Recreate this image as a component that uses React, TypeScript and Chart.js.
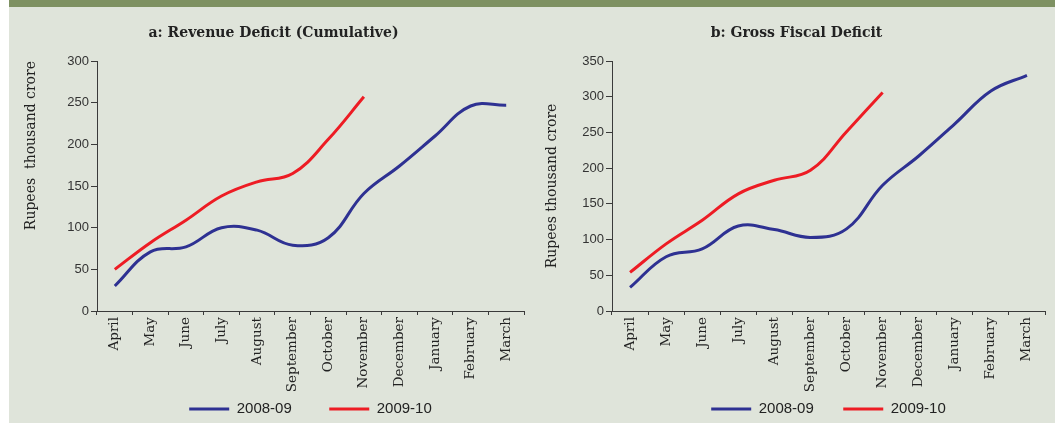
import React, { useEffect, useRef } from "react";
import { Chart, registerables } from "chart.js";

Chart.register(...registerables);

const months = ["April", "May", "June", "July", "August", "September", "October", "November", "December", "January", "February", "March"];
const seriesLabels = ["2008-09", "2009-10"];

const revenue0809 = [30, 71, 77, 100, 97, 79, 88, 141, 174, 210, 246, 247];
const revenue0910 = [50, 82, 109, 138, 155, 165, 206, 257];

const fiscal0809 = [33, 76, 87, 119, 114, 103, 115, 176, 217, 262, 308, 330];
const fiscal0910 = [54, 94, 127, 164, 183, 197, 251, 306];

const BLUE = "#2e3192";
const RED = "#ed1c24";
const AXIS = "#3a3a3a";
const TEXT = "#222222";

type PanelProps = {
  title: string;
  yTitle: string;
  yTitleAlign: "start" | "center" | "end";
  yTitlePad: number;
  blue: number[];
  red: number[];
  yMax: number;
  left: number;
  width: number;
  yAxisWidth: number;
  xAxisHeight: number;
  padLeft: number;
  padRight: number;
  padBottom: number;
  legendPad: number;
};

const CANVAS_H = 460;

function Panel(p: PanelProps) {
  const ref = useRef<HTMLCanvasElement | null>(null);
  useEffect(() => {
    if (!ref.current) return;
    const chart = new Chart(ref.current, {
      type: "line",
      data: {
        labels: months,
        datasets: [
          {
            label: seriesLabels[0],
            data: p.blue,
            borderColor: BLUE,
            backgroundColor: BLUE,
            borderWidth: 3,
            pointRadius: 0,
            tension: 0.4,
            fill: false,
          },
          {
            label: seriesLabels[1],
            data: p.red,
            borderColor: RED,
            backgroundColor: RED,
            borderWidth: 3,
            pointRadius: 0,
            tension: 0.4,
            fill: false,
          },
        ],
      },
      options: {
        responsive: false,
        animation: false,
        devicePixelRatio: 1,
        layout: { padding: { left: p.padLeft, right: p.padRight, top: 0, bottom: p.padBottom } },
        plugins: {
          tooltip: { enabled: false },
          title: {
            display: true,
            text: p.title,
            color: TEXT,
            font: { family: "'DejaVu Serif', serif", size: 14, weight: "bold" },
            padding: { top: 24.6, bottom: 19.6 },
          },
          legend: {
            display: true,
            position: "bottom",
            fullSize: false,
            labels: {
              usePointStyle: true,
              pointStyle: "line",
              pointStyleWidth: 40,
              color: TEXT,
              font: { family: "'Liberation Sans', Arial, sans-serif", size: 15 },
              padding: p.legendPad,
            },
          },
        },
        scales: {
          x: {
            type: "category",
            offset: true,
            grid: { offset: true, drawOnChartArea: false, drawTicks: true, tickLength: 4, color: AXIS },
            border: { color: AXIS, width: 1 },
            ticks: {
              autoSkip: false,
              minRotation: 90,
              maxRotation: 90,
              padding: 2,
              color: TEXT,
              font: { family: "'DejaVu Serif', serif", size: 13.5 },
            },
            afterFit: (scale: any) => {
              scale.height = p.xAxisHeight;
              // let the rotated month names run past the (shortened) axis box
              scale._computeLabelArea = () => undefined;
            },
          },
          y: {
            min: 0,
            max: p.yMax,
            grid: { drawOnChartArea: false, drawTicks: true, tickLength: 6, color: AXIS },
            border: { color: AXIS, width: 1 },
            ticks: {
              stepSize: 50,
              padding: 2,
              color: "#333333",
              font: { family: "'Liberation Sans', Arial, sans-serif", size: 13 },
            },
            title: {
              display: true,
              text: p.yTitle,
              align: p.yTitleAlign,
              color: TEXT,
              font: { family: "'DejaVu Serif', serif", size: 14 },
              padding: { top: p.yTitlePad, bottom: 0 },
            },
            afterFit: (scale: any) => {
              scale.width = p.yAxisWidth;
            },
          },
        },
      },
    });
    return () => chart.destroy();
  }, []);
  return (
    <canvas
      ref={ref}
      width={p.width}
      height={CANVAS_H}
      style={{ position: "absolute", left: p.left, top: 0, width: p.width, height: CANVAS_H }}
    />
  );
}

export default function App() {
  return (
    <div
      style={{
        position: "fixed",
        left: 0,
        top: 0,
        width: 1055,
        height: 423,
        overflow: "hidden",
        background: "#ffffff",
      }}
    >
      <div style={{ position: "absolute", left: 9, top: 0, width: 1046, height: 423, background: "#dfe4da" }} />
      <div style={{ position: "absolute", left: 9, top: 0, width: 1046, height: 7, background: "#7e9162" }} />
      <Panel
        title="a: Revenue Deficit (Cumulative)"
        yTitle="Rupees  thousand crore"
        yTitleAlign="end"
        yTitlePad={-0.4}
        blue={revenue0809}
        red={revenue0910}
        yMax={300}
        left={9}
        width={530}
        yAxisWidth={74}
        xAxisHeight={53}
        padLeft={14}
        padRight={15}
        padBottom={33.5}
        legendPad={37.5}
      />
      <Panel
        title="b: Gross Fiscal Deficit"
        yTitle="Rupees thousand crore"
        yTitleAlign="center"
        yTitlePad={-4.4}
        blue={fiscal0809}
        red={fiscal0910}
        yMax={350}
        left={539}
        width={516}
        yAxisWidth={64}
        xAxisHeight={61}
        padLeft={9}
        padRight={10}
        padBottom={33.5}
        legendPad={29.5}
      />
    </div>
  );
}
